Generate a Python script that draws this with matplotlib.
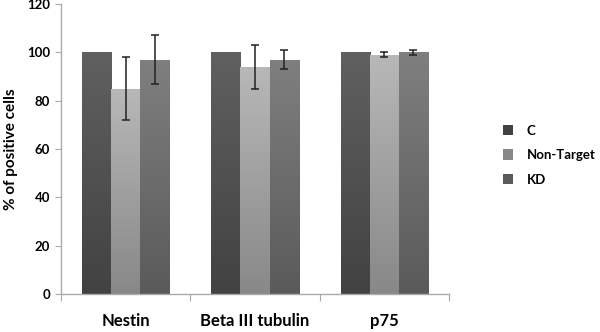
import numpy as np
import matplotlib
matplotlib.use('Agg')
from matplotlib import pyplot as plt
from matplotlib.colors import LinearSegmentedColormap
from matplotlib.patches import Patch

plt.rcParams['font.family'] = ['Lato', 'DejaVu Sans']
plt.rcParams['font.weight'] = 'bold'

markers = ['Nestin', 'Beta III tubulin', 'p75']
groups = ['C', 'Non-Target', 'KD']
c_vals = [100, 100, 100]
nt_vals = [85, 94, 99]
kd_vals = [97, 97, 100]
nt_err = [13, 9, 1]
kd_err = [10, 4, 1]

# top / bottom colour of each bar gradient
shades = {'C': ('#606060', '#424242'),
          'Non-Target': ('#b8b8b8', '#888888'),
          'KD': ('#7f7f7f', '#5a5a5a')}

fig = plt.figure(figsize=(6, 3.32), dpi=100)
ax = fig.add_axes([0.1017, 0.1145, 0.6466, 0.8735])

x = np.arange(len(markers)) + 0.5
w = 0.225
series = [(c_vals, None), (nt_vals, nt_err), (kd_vals, kd_err)]
grad = np.linspace(1, 0, 256).reshape(-1, 1)

for i, (name, (vals, err)) in enumerate(zip(groups, series)):
    pos = x + (i - 1) * w
    bars = ax.bar(pos, vals, w, color=shades[name][0], edgecolor='#505050',
                  linewidth=0.5, zorder=2)
    cmap = LinearSegmentedColormap.from_list(name, [shades[name][1], shades[name][0]])
    for b in bars:
        im = ax.imshow(grad, cmap=cmap, aspect='auto', zorder=2.5,
                       extent=[b.get_x(), b.get_x() + b.get_width(), 0, b.get_height()],
                       vmin=0, vmax=1)
        im.set_clip_path(b)
    if err is not None:
        ax.errorbar(pos, vals, yerr=err, fmt='none', ecolor='#222222',
                    elinewidth=1.1, capsize=3, capthick=1.1, zorder=3)

ax.set_xlim(0, 3)
ax.set_ylim(0, 120)
ax.set_yticks(range(0, 121, 20))
ax.set_xticks([0, 1, 2, 3])
ax.set_xticklabels([])
ax.set_xticks(x, minor=True)
ax.set_xticklabels(markers, minor=True, fontsize=12, fontweight='bold')
ax.tick_params(axis='x', which='minor', length=0, pad=14)
ax.tick_params(axis='x', which='major', length=5, color='#aaaaaa', direction='out')
ax.tick_params(axis='y', length=4, color='#aaaaaa', labelsize=9.5, pad=4)
for t in ax.get_yticklabels():
    t.set_fontweight('bold')
for s in ['top', 'right']:
    ax.spines[s].set_visible(False)
for s in ['left', 'bottom']:
    ax.spines[s].set_color('#aaaaaa')
    ax.spines[s].set_linewidth(1)
ax.set_ylabel('% of positive cells', fontsize=11, fontweight='bold', labelpad=6)

handles = [Patch(facecolor=shades[g][1], edgecolor='none') for g in groups]
fig.legend(handles, groups, loc='center left', bbox_to_anchor=(0.818, 0.533),
           frameon=False, prop={'weight': 'bold', 'size': 9.5},
           handlelength=0.8, handleheight=0.8, labelspacing=0.95, handletextpad=1.0)

fig.savefig('out.png', dpi=100)
